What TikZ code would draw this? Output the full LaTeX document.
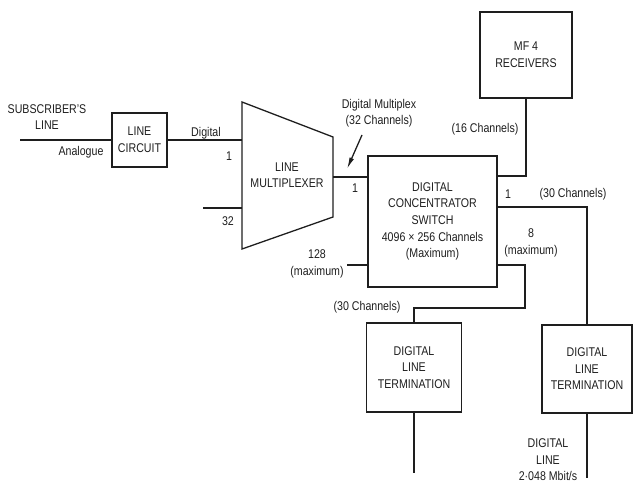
\documentclass[tikz,border=0pt]{standalone}
\usepackage{fontspec}
\setmainfont{Liberation Sans}[FakeStretch=0.84]
\usetikzlibrary{arrows.meta,positioning,calc}
\definecolor{ink}{RGB}{30,30,30}

\begin{document}
\begin{tikzpicture}[x=0.03cm, y=-0.03cm, ink, line width=1.1pt,
    blk/.style={draw, align=center, inner sep=0pt, font=\fontsize{10.8}{14.2}\selectfont},
    lbl/.style={align=center, inner sep=0pt, font=\fontsize{10.8}{14}\selectfont}]

    \useasboundingbox (0,0) rectangle (633,486);

    % Blocks
    \node[blk, minimum width=1.65cm, minimum height=1.62cm] (lc) at (139.5,140) {LINE\\CIRCUIT};
    \node[blk, minimum width=3.87cm, minimum height=3.93cm] (sw) at (432.5,221.5)
        {DIGITAL\\CONCENTRATOR\\SWITCH\\4096 × 256 Channels\\(Maximum)};
    \node[blk, minimum width=2.76cm, minimum height=2.58cm] (mf) at (526,55) {MF 4\\RECEIVERS};
    \node[blk, minimum width=2.85cm, minimum height=2.67cm] (dlt1) at (414,367.5) {DIGITAL\\LINE\\TERMINATION};
    \node[blk, minimum width=2.7cm, minimum height=2.64cm] (dlt2) at (587,369) {DIGITAL\\LINE\\TERMINATION};

    % Line multiplexer
    \coordinate (mxa) at (242,102);
    \coordinate (mxb) at (333,137);
    \coordinate (mxc) at (333,217);
    \coordinate (mxd) at (242,249);
    \draw (mxa) -- (mxb) -- (mxc) -- (mxd) -- cycle;
    \node[lbl] (mx) at (287,175) {LINE\\MULTIPLEXER};

    % Free line ends
    \coordinate (sub) at (20,140);
    \coordinate (in1) at (242,140);
    \coordinate (in32s) at (203,208);
    \coordinate (in32) at (242,208);
    \coordinate (mo) at (333,177);
    \coordinate (c128) at (347,265);
    \coordinate (m16) at (0,176);
    \coordinate (r1) at (0,207);
    \coordinate (r8) at (0,265);
    \coordinate (b8) at (525,308);
    \coordinate (end1) at (414,473);
    \coordinate (end2) at (587,478);
    \coordinate (arA) at (362,135);
    \coordinate (arB) at (347,169);

    % Connections
    \draw (sub) -- (lc.west);
    \draw (lc.east) -- (in1);
    \draw (in32s) -- (in32);
    \draw (mo) -- (mo -| sw.west);
    \draw (c128) -- (c128 -| sw.west);
    \draw (mf.south) |- (m16 -| sw.east);
    \draw (r1 -| sw.east) -| (dlt2.north);
    \draw (r8 -| sw.east) -| (b8) -| (dlt1.north);
    \draw (dlt1.south) -- (end1);
    \draw (dlt2.south) -- (end2);
    \draw[-{Latex[length=10pt,width=4pt]}] (arA) -- (arB);

    % Labels
    \node[lbl] (tsub) at (47,117) {SUBSCRIBER'S\\LINE};
    \node[lbl] (tana) at (81,152) {Analogue};
    \node[lbl] (tdig) at (206,133) {Digital};
    \node[lbl] (tone) at (229,156) {1};
    \node[lbl] (t32) at (228,221) {32};
    \node[lbl] (tmux) at (379,113) {Digital Multiplex\\(32 Channels)};
    \node[lbl] (tmo) at (355,188) {1};
    \node[lbl] (t128) at (317,264) {128\\(maximum)};
    \node[lbl] (t16) at (485,129) {(16 Channels)};
    \node[lbl] (tr1) at (508,194) {1};
    \node[lbl] (tr30) at (573,194) {(30 Channels)};
    \node[lbl] (tr8) at (531,243) {8\\(maximum)};
    \node[lbl] (tl30) at (367,307) {(30 Channels)};
    \node[lbl] (tdl) at (548,460) {DIGITAL\\LINE\\2·048 Mbit/s};

\end{tikzpicture}
\end{document}
